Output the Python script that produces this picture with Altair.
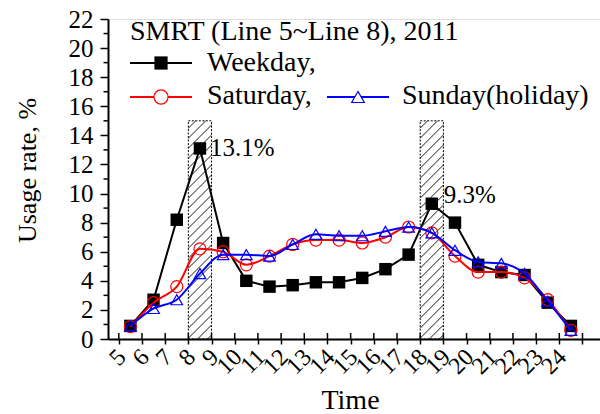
import altair as alt
import pandas as pd
import numpy as np

# ---------------- data ----------------
hours = [5.5, 6.5, 7.5, 8.5, 9.5, 10.5, 11.5, 12.5, 13.5, 14.5,
         15.5, 16.5, 17.5, 18.5, 19.5, 20.5, 21.5, 22.5, 23.5, 24.5]
weekday = [0.9, 2.7, 8.2, 13.1, 6.6, 4.0, 3.6, 3.7, 3.9, 3.9,
           4.2, 4.8, 5.8, 9.3, 8.0, 5.1, 4.6, 4.4, 2.5, 0.9]
saturday = [0.85, 2.5, 3.6, 6.2, 6.0, 5.1, 5.7, 6.5, 6.8, 6.8,
            6.6, 7.0, 7.7, 7.3, 5.7, 4.6, 4.6, 4.2, 2.7, 0.6]
sunday = [0.9, 2.1, 2.7, 4.5, 5.8, 5.8, 5.7, 6.5, 7.2, 7.1,
          7.1, 7.4, 7.7, 7.3, 6.1, 5.3, 5.2, 4.5, 2.6, 0.6]

band_start = [8, 18]
band_end = [9, 19]
band_bottom = [0, 0]
band_top = [15, 15]

peak_x = [8.5, 18.5]
peak_y = [13.1, 9.3]
peak_label = ["13.1%", "9.3%"]

x_ticks = list(range(5, 26))
y_major = list(range(0, 23, 2))
y_minor = list(range(1, 23, 2))

FONT = "Liberation Serif"
W, H = 492, 320
X_DOMAIN = [4.534, 25.755]
Y_DOMAIN = [0, 22]

df_w = pd.DataFrame({"t": hours, "v": weekday})
df_s = pd.DataFrame({"t": hours, "v": saturday})
df_u = pd.DataFrame({"t": hours, "v": sunday})
df_band = pd.DataFrame({"a": band_start, "b": band_end, "bot": band_bottom, "top": band_top})

# hatch segments inside the bands (45 degree in pixel space)
px_x = W / (X_DOMAIN[1] - X_DOMAIN[0])
px_y = H / (Y_DOMAIN[1] - Y_DOMAIN[0])
slope = px_x / px_y
spacing = 10 / px_y
rows = []
for a, b, top in zip(band_start, band_end, band_top):
    c = -slope + spacing * 0.4
    while c < top:
        x1, y1 = a, c
        x2, y2 = b, c + slope * (b - a)
        if y1 < 0:
            x1 = a + (0 - c) / slope
            y1 = 0
        if y2 > top:
            x2 = a + (top - c) / slope
            y2 = top
        if x2 > x1:
            rows.append({"x1": x1, "y1": y1, "x2": x2, "y2": y2})
        c += spacing
df_hatch = pd.DataFrame(rows)

xs = alt.Scale(domain=X_DOMAIN, nice=False, zero=False)
ys = alt.Scale(domain=Y_DOMAIN, nice=False)

x_axis = alt.Axis(
    values=x_ticks, title="Time", labelAngle=-45, labelAlign="right",
    labelBaseline="middle", labelPadding=9, labelOffset=3,
    labelOverlap=False, labelBound=False, labelFlush=False,
    labelExpr="datum.value == 25 ? '' : datum.label",
    labelFont=FONT, labelFontSize=24, labelColor="black",
    titleFont=FONT, titleFontSize=28, titleFontWeight="normal", titleColor="black",
    titleX=242, titleY=69, titleBaseline="alphabetic", titleAlign="center",
    tickSize=5, tickWidth=1.5, tickColor="black",
    domainColor="black", domainWidth=2, grid=False,
)
y_axis = alt.Axis(
    values=y_major, title="Usage rate, %",
    labelOverlap=False, labelBound=False, labelFlush=False,
    labelFont=FONT, labelFontSize=25, labelColor="black", labelPadding=7,
    titleFont=FONT, titleFontSize=26, titleFontWeight="normal", titleColor="black",
    titleAngle=-90, titleX=-73, titleY=151, titleAlign="center", titleBaseline="alphabetic",
    tickSize=8, tickWidth=1.5, tickColor="black",
    domainColor="black", domainWidth=2, grid=False,
)

def X(f):
    return alt.X(f, scale=xs, axis=x_axis)

def Y(f):
    return alt.Y(f, scale=ys, axis=y_axis)

hatch = alt.Chart(df_hatch).mark_rule(color="black", strokeWidth=0.9).encode(
    x=X("x1:Q"), y=Y("y1:Q"), x2="x2:Q", y2="y2:Q",
)

band = alt.Chart(df_band).mark_rect(
    fillOpacity=0, stroke="black", strokeWidth=1, strokeDash=[2, 1.5]
).encode(x=X("a:Q"), x2="b:Q", y=Y("bot:Q"), y2="top:Q")

# inward half of crossing x ticks
inner_ticks = alt.Chart(pd.DataFrame({"t": x_ticks})).mark_rule(
    color="black", strokeWidth=1.5
).encode(x=X("t:Q"), y=alt.value(H), y2=alt.value(H - 6))

# minor y ticks
minor_ticks = alt.Chart(pd.DataFrame({"v": y_minor})).mark_rule(
    color="black", strokeWidth=1.5
).encode(y=Y("v:Q"), x=alt.value(0), x2=alt.value(-4.5))

line_w = alt.Chart(df_w).mark_line(color="black", strokeWidth=2).encode(x=X("t:Q"), y=Y("v:Q"))
pts_w = alt.Chart(df_w).mark_point(shape="square", filled=True, color="black", size=155, opacity=1).encode(x=X("t:Q"), y=Y("v:Q"))
line_s = alt.Chart(df_s).mark_line(color="red", strokeWidth=2, interpolate="monotone").encode(x=X("t:Q"), y=Y("v:Q"))
pts_s = alt.Chart(df_s).mark_point(shape="circle", filled=False, color="red", size=145, strokeWidth=1.2, opacity=1).encode(x=X("t:Q"), y=Y("v:Q"))
line_u = alt.Chart(df_u).mark_line(color="blue", strokeWidth=2, interpolate="monotone").encode(x=X("t:Q"), y=Y("v:Q"))
pts_u = alt.Chart(df_u).mark_point(shape="triangle-up", filled=False, color="blue", size=135, strokeWidth=1.2, opacity=1).encode(x=X("t:Q"), y=Y("v:Q"))

df_peak = pd.DataFrame({"t": peak_x, "v": peak_y, "lab": peak_label})
ann1 = alt.Chart(df_peak.iloc[[0]]).mark_text(
    font=FONT, fontSize=25, align="left", baseline="middle", dx=10, dy=0, color="black"
).encode(x=X("t:Q"), y=Y("v:Q"), text="lab:N")
ann2 = alt.Chart(df_peak.iloc[[1]]).mark_text(
    font=FONT, fontSize=25, align="left", baseline="middle", dx=12, dy=-9, color="black"
).encode(x=X("t:Q"), y=Y("v:Q"), text="lab:N")

# ---------------- legend (pixel layout) ----------------
one = pd.DataFrame({"k": [0]})
def ltext(txt, x, y):
    return alt.Chart(one).mark_text(
        text=txt, font=FONT, fontSize=28, align="left", baseline="alphabetic", color="black"
    ).encode(x=alt.value(x), y=alt.value(y))

def lline(color, x1, x2, y):
    return alt.Chart(one).mark_rule(color=color, strokeWidth=2).encode(
        x=alt.value(x1), x2=alt.value(x2), y=alt.value(y))

def lsym(shape, color, filled, size, x, y):
    return alt.Chart(one).mark_point(
        shape=shape, color=color, filled=filled, size=size, opacity=1, strokeWidth=1.2,
        fill=color if filled else "white"
    ).encode(x=alt.value(x), y=alt.value(y))

legend = [
    ltext("SMRT (Line 5~Line 8), 2011", 22, 21),
    lline("black", 22, 84, 44), lsym("square", "black", True, 175, 53, 44),
    ltext("Weekday,", 99, 52),
    lline("red", 22, 84, 78), lsym("circle", "red", False, 200, 53, 78),
    ltext("Saturday,", 99, 85),
    lline("blue", 219, 281, 78), lsym("triangle-up", "blue", False, 160, 250, 78),
    ltext("Sunday(holiday)", 294, 85),
]

chart = alt.layer(
    hatch, band, inner_ticks, minor_ticks,
    line_w, pts_w, line_s, pts_s, line_u, pts_u,
    ann1, ann2, *legend
).properties(
    width=W, height=H, autosize="none",
    padding={"left": 108, "top": 19, "right": 0, "bottom": 75},
).configure_view(stroke=None).configure_axis(
    labelOverlap=False
).configure(background="white")

chart.save("out.html", embed_options={"renderer": "svg", "actions": False})
